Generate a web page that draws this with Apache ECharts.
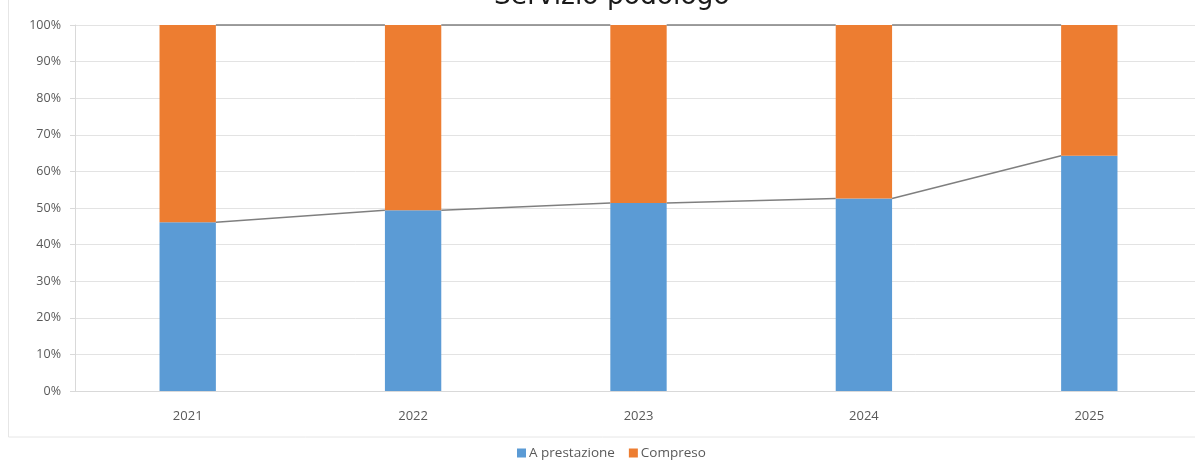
<!DOCTYPE html>
<html>
<head>
<meta charset="utf-8">
<script src="https://cdn.jsdelivr.net/npm/echarts@6/dist/echarts.min.js"></script>
<style>
html,body{margin:0;padding:0;background:#fff;}
#c{width:1195px;height:462px;}
</style>
</head>
<body>
<div id="c"></div>
<script>
var titleText = 'Servizio podologo';
var categories = ['2021', '2022', '2023', '2024', '2025'];
var seriesNames = ['A prestazione', 'Compreso'];
var aPrestazione = [46.1, 49.4, 51.4, 52.6, 64.3];
var compreso = [53.9, 50.6, 48.6, 47.4, 35.7];
var yTicks = [0, 10, 20, 30, 40, 50, 60, 70, 80, 90, 100];

var barFrac = 0.25; // bar width as a fraction of the category band

function seriesLineData(bottom, top) {
  var cum = bottom.map(function (v, i) { return top ? v + top[i] : v; });
  var out = [];
  for (var i = 0; i < cum.length - 1; i++) out.push([i, cum[i], i + 1, cum[i + 1]]);
  return out;
}

function renderSeriesLine(params, api) {
  var p1 = api.coord([api.value(0), api.value(1)]);
  var p2 = api.coord([api.value(2), api.value(3)]);
  var band = api.size([1, 0])[0];
  var half = band * barFrac / 2;
  return {
    type: 'line',
    shape: { x1: p1[0] + half, y1: p1[1], x2: p2[0] - half, y2: p2[1] },
    style: { stroke: '#7f7f7f', lineWidth: 1.5 },
    z2: 10
  };
}

var chart = echarts.init(document.getElementById('c'), null, { renderer: 'canvas' });
chart.setOption({
  animation: false,
  backgroundColor: '#ffffff',
  title: {
    text: titleText,
    left: 489,
    top: -21,
    textStyle: { fontFamily: 'DejaVu Sans', fontSize: 26.5, fontWeight: 'normal', color: '#1a1a1a' }
  },
  graphic: [{
    type: 'rect',
    shape: { x: 8.5, y: -5, width: 1200, height: 442 },
    style: { fill: 'none', stroke: '#e6e6e6', lineWidth: 1 },
    silent: true,
    z: -1
  }],
  legend: {
    bottom: -3,
    left: 512,
    itemWidth: 9,
    itemHeight: 9,
    itemGap: 14,
    icon: 'rect',
    textStyle: { fontFamily: 'Open Sans', fontSize: 13.5, color: '#595959', padding: [0, 0, 0, -2] },
    data: seriesNames
  },
  grid: { left: 75, width: 1127, top: 25, bottom: 71, containLabel: false, outerBoundsMode: 'none' },
  xAxis: {
    type: 'category',
    data: categories,
    axisLine: { show: true, lineStyle: { color: '#d9d9d9' } },
    axisTick: { show: false },
    axisLabel: { color: '#595959', fontFamily: 'Open Sans', fontSize: 13, margin: 19 }
  },
  yAxis: {
    type: 'value',
    min: yTicks[0],
    max: yTicks[yTicks.length - 1],
    interval: yTicks[1] - yTicks[0],
    axisLine: { show: true, lineStyle: { color: '#d9d9d9' } },
    axisTick: { show: true, length: 5, lineStyle: { color: '#d9d9d9' } },
    axisLabel: { color: '#595959', fontFamily: 'Open Sans', fontSize: 12.5, margin: 14, formatter: '{value}%' },
    splitLine: { show: true, lineStyle: { color: '#e3e3e3' } }
  },
  series: [
    {
      name: seriesNames[0], type: 'bar', stack: 's', data: aPrestazione,
      barWidth: (barFrac * 100) + '%',
      itemStyle: { color: '#5b9bd5' }, z: 3
    },
    {
      name: seriesNames[1], type: 'bar', stack: 's', data: compreso,
      itemStyle: { color: '#ed7d31' }, z: 3
    },
    {
      type: 'custom', renderItem: renderSeriesLine,
      data: seriesLineData(aPrestazione), silent: true, z: 4,
      encode: { x: [0, 2], y: [1, 3] }
    },
    {
      type: 'custom', renderItem: renderSeriesLine,
      data: seriesLineData(aPrestazione, compreso), silent: true, z: 4,
      encode: { x: [0, 2], y: [1, 3] }
    }
  ]
});
</script>
</body>
</html>
